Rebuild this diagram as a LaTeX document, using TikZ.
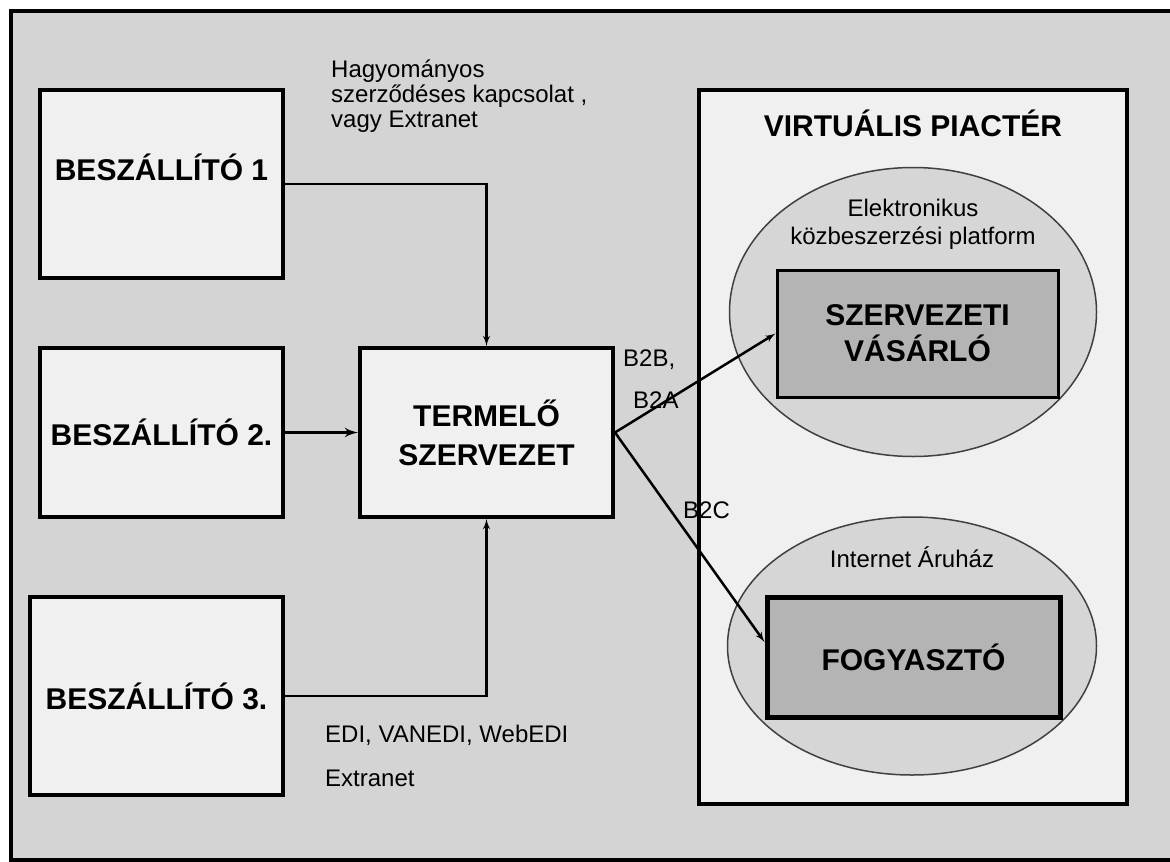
\documentclass[tikz,border=0pt]{standalone}
\usepackage{fontspec}
\setmainfont{Liberation Sans}
\usetikzlibrary{shapes,arrows}
\usetikzlibrary{positioning}
\definecolor{framegray}{HTML}{D4D4D4}
\definecolor{paper}{HTML}{F0F0F0}
\definecolor{cloudgray}{HTML}{D6D6D6}
\definecolor{buyergray}{HTML}{B4B4B4}
\tikzstyle{block} = [rectangle, draw, line width=4pt, fill=paper,
    align=center, inner sep=0pt, font=\fontsize{30}{38}\selectfont\bfseries]
\tikzstyle{buyer} = [block, fill=buyergray, line width=3pt]
\tikzstyle{cloud} = [draw=black!75, ellipse, fill=cloudgray, line width=1.5pt,
    inner sep=0pt]
\tikzstyle{title} = [inner sep=0pt, font=\fontsize{30}{38}\selectfont\bfseries]
\tikzstyle{note} = [inner sep=0pt, align=left, font=\fontsize{24}{25}\selectfont]
\tikzstyle{line} = [draw, line width=2.5pt, -latex']

\begin{document}
\begin{tikzpicture}[x=1pt, y=-1pt]
    \useasboundingbox (0,0) rectangle (1170,862);
    \draw [line width=4pt, fill=framegray] (11,11) rectangle (1175,860);

    % Place nodes
    \node [block, minimum width=243pt, minimum height=188pt] (b1) at (161.5,184) {};
    \node [title] (b1t) at (161.5,167) {BESZÁLLÍTÓ 1};
    \node [block, minimum width=243pt, minimum height=169pt] (b2) at (161.5,432.5) {BESZÁLLÍTÓ 2.};
    \node [block, minimum width=253pt, minimum height=198pt] (b3) at (156.5,696) {BESZÁLLÍTÓ 3.};
    \node [block, minimum width=253pt, minimum height=169pt,
        font=\fontsize{30}{39}\selectfont\bfseries] (t) at (486.5,432.5) {TERMELŐ\\SZERVEZET};

    \node [block, minimum width=428pt, minimum height=714pt] (vp) at (913,447) {};
    \node [title] (vpt) at (913,123) {VIRTUÁLIS PIACTÉR};
    \node [cloud, minimum width=367pt, minimum height=289pt] (e1) at (913,312) {};
    \node [note, align=center, font=\fontsize{24}{28}\selectfont] (e1t) at (913,224)
        {Elektronikus\\közbeszerzési platform};
    \node [buyer, minimum width=281pt, minimum height=127pt,
        font=\fontsize{30}{36}\selectfont\bfseries] (sz) at (917.5,333.5) {SZERVEZETI\\VÁSÁRLÓ};
    \node [cloud, minimum width=369pt, minimum height=258pt] (e2) at (912,646) {};
    \node [note] (e2t) at (912,557) {Internet Áruház};
    \node [buyer, line width=5pt, minimum width=293pt, minimum height=120pt] (fo) at (913.5,657) {FOGYASZTÓ};

    \node [note, anchor=west] (hagy) at (331,96) {Hagyományos\\szerződéses kapcsolat ,\\vagy Extranet};
    \node [note, anchor=west] (edi) at (325,756) {EDI, VANEDI, WebEDI\\[19pt]Extranet};
    \node [note, anchor=west] (b2b) at (623,360) {B2B,};
    \node [note, anchor=west] (b2a) at (633,400) {B2A};
    \node [note, anchor=west] (b2c) at (683,510) {B2C};

    % Draw edges
    \path [line] (b1) -| (t);
    \path [line, line width=3.5pt] (b2) -- (t);
    \path [line] (b3) -| (t);
    \path [line] (t.east) -- (sz.west);
    \path [line] (t.east) -- ([yshift=15pt]fo.west);
\end{tikzpicture}
\end{document}
